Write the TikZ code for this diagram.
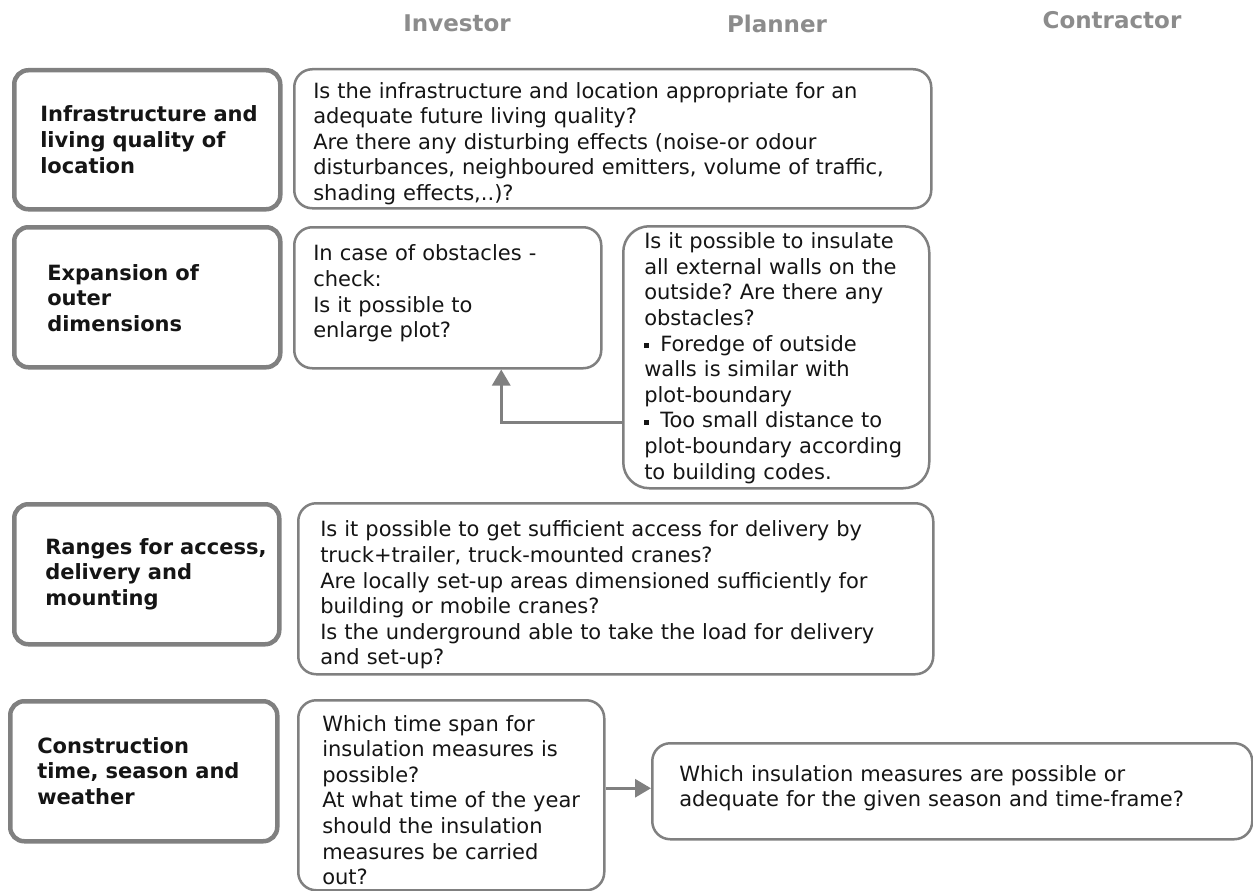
\documentclass[tikz,border=0pt]{standalone}
\usepackage{fontspec}
\setmainfont{DejaVu Sans}
\usetikzlibrary{arrows.meta}
\definecolor{bordergray}{HTML}{808080}
\definecolor{headgray}{HTML}{8C8C8C}
\definecolor{textblack}{HTML}{151515}
\setlength\parindent{0pt}
% #1 left indent, #2 space above (negative moves text up), #3 text
\newcommand\LS[3]{\vskip#2pt\leftskip=#1pt\relax #3\par}
\newcommand\sqb{\rule[3pt]{5pt}{5pt}\hspace{4pt}}
\tikzset{
  lbox/.style={draw=bordergray, line width=4.5pt, rounded corners=14pt, anchor=north west,
    inner sep=0pt, align=left, text=textblack,
    font=\bfseries\fontsize{21}{25.6}\selectfont\frenchspacing},
  qbox/.style={draw=bordergray, line width=2.5pt, rounded corners=18pt, anchor=north west,
    inner sep=0pt, align=left, text=textblack,
    font=\fontsize{21}{25.6}\selectfont\frenchspacing},
  hdr/.style={anchor=base, text=headgray, font=\bfseries\fontsize{23}{28}\selectfont},
  arr/.style={draw=bordergray, line width=3pt, -{Triangle[length=16pt,width=18pt]}},
}
\begin{document}
\begin{tikzpicture}[x=1pt,y=-1pt]
\useasboundingbox (0,0) rectangle (1253,891);
\fill[white] (0,0) rectangle (1253,891);

% headers
\node[hdr] (hinv) at (457,32) {Investor};
\node[hdr] (hpla) at (777,33) {Planner};
\node[hdr] (hcon) at (1112,29) {Contractor};

% row 1
\node[lbox, text width=266pt, minimum height=139pt] (L1) at (12,68)
  {\LS{26}{-10}{Infrastructure and\\living quality of\\location}};
\node[qbox, text width=637pt, minimum height=139pt] (R1) at (293,68)
  {\LS{19}{0}{Is the infrastructure and location appropriate for an\\adequate future living quality?\\Are there any disturbing effects (noise-or odour\\disturbances, neighboured emitters, volume of traffic,\\shading effects,..)?}};

% row 2
\node[lbox, text width=266pt, minimum height=140pt] (L2) at (12,225)
  {\LS{33}{-8}{Expansion of\\outer\\dimensions}};
\node[qbox, text width=307pt, minimum height=141pt] (M2) at (293,226)
  {\LS{19}{-18}{In case of obstacles -\\check:\\Is it possible to\\enlarge plot?}};
\node[qbox, rounded corners=26pt, text width=306pt, minimum height=262pt] (R2) at (622,225)
  {\LS{21}{-8}{Is it possible to insulate\\all external walls on the\\outside? Are there any\\obstacles?\\\sqb\ Foredge of outside\\walls is similar with\\plot-boundary\\\sqb\ Too small distance to\\plot-boundary according\\to building codes.}};

% row 3
\node[lbox, text width=265pt, minimum height=140pt] (L3) at (12,502)
  {\LS{31}{-10}{Ranges for access,\\delivery and\\mounting}};
\node[qbox, text width=635pt, minimum height=171pt] (R3) at (297,502)
  {\LS{22}{3}{Is it possible to get sufficient access for delivery by\\truck+trailer, truck-mounted cranes?\\Are locally set-up areas dimensioned sufficiently for\\building or mobile cranes?\\Is the underground able to take the load for delivery\\and set-up?}};

% row 4
\node[lbox, text width=267pt, minimum height=140pt] (L4) at (8,699)
  {\LS{27}{-10}{Construction\\time, season and\\weather}};
\node[qbox, text width=306pt, minimum height=190pt] (M4) at (297,699)
  {\LS{24}{0}{Which time span for\\insulation measures is\\possible?\\At what time of the year\\should the insulation\\measures be carried\\out?}};
\node[qbox, text width=600pt, minimum height=96pt] (R4) at (651,742)
  {\LS{27}{-16}{Which insulation measures are possible or\\adequate for the given season and time-frame?}};

% connectors
\draw[arr] ([yshift=-65pt]R2.west) -| ([xshift=53.5pt]M2.south);
\draw[arr] ([yshift=7pt]M4.east) -- ([yshift=7pt]M4.east -| R4.west);
\end{tikzpicture}
\end{document}
